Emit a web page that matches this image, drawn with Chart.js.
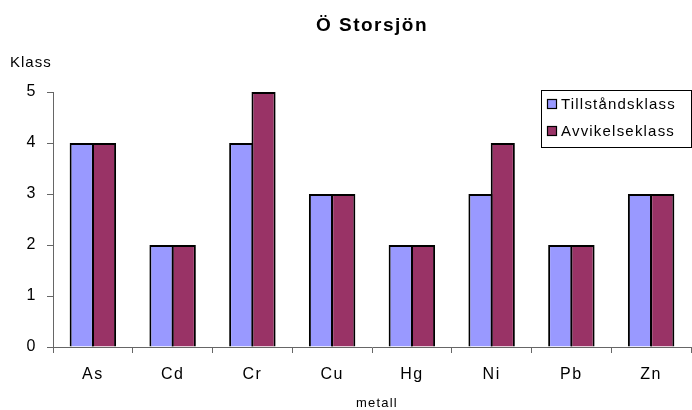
<!DOCTYPE html>
<html>
<head>
<meta charset="utf-8">
<script src="https://cdn.jsdelivr.net/npm/chart.js@4/dist/chart.umd.min.js"></script>
<style>
  html, body { margin: 0; padding: 0; background: #fff; }
  #wrap { width: 692px; height: 410px; position: relative; }
</style>
</head>
<body>
<div id="wrap"><canvas id="c" width="692" height="410"></canvas></div>
<script>
// Metals and class values for Ö Storsjön
const metals = ['As', 'Cd', 'Cr', 'Cu', 'Hg', 'Ni', 'Pb', 'Zn'];
const tillstandsklass = [4, 2, 4, 3, 2, 3, 2, 3];
const avvikelseklass = [4, 2, 5, 3, 2, 4, 2, 3];
const yTicks = [0, 1, 2, 3, 4, 5];

const seriesNames = ['Tillståndsklass', 'Avvikelseklass'];
const seriesColors = ['#9999FF', '#993366'];
const FONT = 'Arial, "Liberation Sans", sans-serif';

// Slightly spaced lettering for the axis labels
const spacing = {
  id: 'spacing',
  beforeLayout(chart) { chart.ctx.letterSpacing = '1.5px'; },
  beforeDraw(chart) { chart.ctx.letterSpacing = '1.5px'; }
};

// Chart-level texts and the boxed legend drawn onto the canvas
const decorations = {
  id: 'decorations',
  afterDraw(chart) {
    const ctx = chart.ctx;
    const area = chart.chartArea;
    const cx = (area.left + area.right) / 2;
    ctx.save();
    ctx.fillStyle = '#000';
    ctx.textBaseline = 'middle';

    ctx.letterSpacing = '1.5px';
    ctx.font = 'bold 19px ' + FONT;
    ctx.textAlign = 'center';
    ctx.fillText('Ö Storsjön', cx, 26);

    ctx.letterSpacing = '1px';
    ctx.font = '15px ' + FONT;
    ctx.textAlign = 'left';
    ctx.fillText('Klass', 10, 63);

    ctx.letterSpacing = '1.2px';
    ctx.font = '13px ' + FONT;
    ctx.textAlign = 'center';
    ctx.fillText('metall', cx + 5, 403);

    // legend box
    const bx = 541.5, by = 90.5, bw = 150, bh = 57;
    ctx.fillStyle = '#fff';
    ctx.fillRect(bx, by, bw, bh);
    ctx.strokeStyle = '#000';
    ctx.lineWidth = 1;
    ctx.strokeRect(bx, by, bw, bh);
    ctx.letterSpacing = '1.2px';
    ctx.font = '15px ' + FONT;
    ctx.textAlign = 'left';
    seriesNames.forEach((name, i) => {
      const y = 104 + i * 27;
      ctx.fillStyle = seriesColors[i];
      ctx.fillRect(547.5, y - 4.5, 9, 9);
      ctx.strokeStyle = '#000';
      ctx.lineWidth = 1.2;
      ctx.strokeRect(547.5, y - 4.5, 9, 9);
      ctx.fillStyle = '#000';
      ctx.fillText(name, 561, y + 1);
    });
    ctx.restore();
  }
};

new Chart(document.getElementById('c'), {
  type: 'bar',
  data: {
    labels: metals,
    datasets: [
      { label: seriesNames[0], data: tillstandsklass, backgroundColor: seriesColors[0],
        borderColor: '#000', borderWidth: 2, categoryPercentage: 0.56, barPercentage: 1.08 },
      { label: seriesNames[1], data: avvikelseklass, backgroundColor: seriesColors[1],
        borderColor: '#000', borderWidth: 2, categoryPercentage: 0.56, barPercentage: 1.08 }
    ]
  },
  options: {
    responsive: false,
    animation: false,
    devicePixelRatio: 1,
    layout: { padding: { top: 92, left: 0, right: 1, bottom: 0 } },
    plugins: { legend: { display: false }, title: { display: false }, tooltip: { enabled: false } },
    scales: {
      x: {
        afterFit(scale) { scale.height = 63; },
        grid: { drawOnChartArea: false, tickLength: 6, color: '#666', offset: true },
        border: { color: '#666', width: 1 },
        ticks: { color: '#000', font: { family: FONT, size: 16 }, padding: 12 }
      },
      y: {
        min: 0, max: 5,
        afterFit(scale) { scale.width = 53; },
        afterBuildTicks(scale) { scale.ticks = yTicks.map(v => ({ value: v })); },
        grid: { drawOnChartArea: false, tickLength: 6, color: '#666' },
        border: { color: '#666', width: 1 },
        ticks: { color: '#000', font: { family: FONT, size: 16 }, padding: 10 }
      }
    }
  },
  plugins: [spacing, decorations]
});
</script>
</body>
</html>
